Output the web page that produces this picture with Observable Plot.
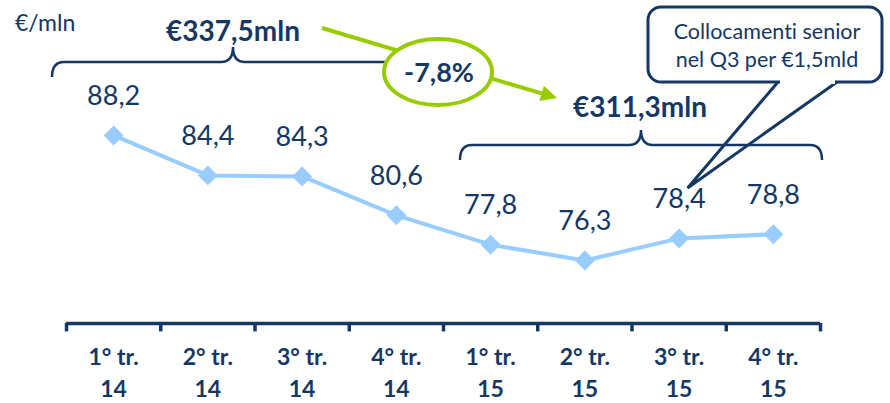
<!DOCTYPE html>
<html><head><meta charset="utf-8">
<script src="https://cdn.jsdelivr.net/npm/d3@7"></script>
<script src="https://cdn.jsdelivr.net/npm/@observablehq/plot@0.6"></script>
<style>body{margin:0;background:#fff} svg text{font-variant-ligatures:none}</style>
</head><body><div id="chart"></div>
<script>
const quarters = ["1° tr.\n14","2° tr.\n14","3° tr.\n14","4° tr.\n14","1° tr.\n15","2° tr.\n15","3° tr.\n15","4° tr.\n15"];
const values = [88.2, 84.4, 84.3, 80.6, 77.8, 76.3, 78.4, 78.8];
const unitLabel = "€/mln";
const calloutText = ["Collocamenti senior", "nel Q3 per €1,5mld"];

const navy = "#143764";
const lineBlue = "#99CCFF";
const green = "#99CC00";
const fmt = v => v.toFixed(1).replace(".", ",");
const data = quarters.map((q, i) => ({i: i + 0.5, q, v: values[i]}));
const yMin = 70.3;
const sum14 = d3.sum(values.slice(0, 4));
const sum15 = d3.sum(values.slice(4));
const pct = (sum15 / sum14 - 1) * 100;

function annotations(index, scales) {
  const g = d3.create("svg:g");
  const x = scales.x, y = scales.y;
  const brace = (x1, x2, xm, yTop, h) => {
    const r = 12;
    return `M${x1},${yTop + h} Q${x1},${yTop} ${x1 + r},${yTop} H${xm - r} Q${xm},${yTop} ${xm},${yTop - h}` +
           ` Q${xm},${yTop} ${xm + r},${yTop} H${x2 - r} Q${x2},${yTop} ${x2},${yTop + h}`;
  };
  // brace 2014
  g.append("path").attr("d", brace(52, 414, 233, 62, 15))
    .attr("fill", "none").attr("stroke", navy).attr("stroke-width", 2.5);
  g.append("text").attr("x", 233).attr("y", 41).attr("text-anchor", "middle")
    .attr("font-size", 28).attr("font-weight", "bold").attr("fill", navy)
    .text("€" + fmt(sum14) + "mln");
  // brace 2015
  g.append("path").attr("d", brace(460, 822, 641, 145, 15))
    .attr("fill", "none").attr("stroke", navy).attr("stroke-width", 2.5);
  g.append("text").attr("x", 640).attr("y", 117).attr("text-anchor", "middle")
    .attr("font-size", 28).attr("font-weight", "bold").attr("fill", navy)
    .text("€" + fmt(sum15) + "mln");
  // green arrow
  const ax1 = 322, ay1 = 28, ax2 = 557, ay2 = 98;
  const ang = Math.atan2(ay2 - ay1, ax2 - ax1);
  const hl = 16, hw = 8;
  const bx = ax2 - hl * Math.cos(ang), by = ay2 - hl * Math.sin(ang);
  g.append("line").attr("x1", ax1).attr("y1", ay1).attr("x2", bx).attr("y2", by)
    .attr("stroke", green).attr("stroke-width", 4);
  g.append("path").attr("d",
    `M${ax2},${ay2} L${bx - hw * Math.sin(ang)},${by + hw * Math.cos(ang)} L${bx + hw * Math.sin(ang)},${by - hw * Math.cos(ang)} Z`)
    .attr("fill", green);
  g.append("ellipse").attr("cx", 438).attr("cy", 72).attr("rx", 54).attr("ry", 33)
    .attr("fill", "white").attr("stroke", green).attr("stroke-width", 4);
  g.append("text").attr("x", 439).attr("y", 82).attr("text-anchor", "middle")
    .attr("font-size", 27).attr("font-weight", "bold").attr("fill", navy)
    .text(fmt(pct) + "%");
  // callout
  g.append("rect").attr("x", 648).attr("y", 7).attr("width", 234).attr("height", 75).attr("rx", 13)
    .attr("fill", "white").attr("stroke", navy).attr("stroke-width", 3);
  const tipX = x(data[6].i) + 9, tipY = y(data[6].v) - 50;
  g.append("path").attr("d", `M778,82 L${tipX},${tipY} L837,82`)
    .attr("fill", "none").attr("stroke", navy).attr("stroke-width", 3).attr("stroke-linejoin", "miter");
  g.append("line").attr("x1", 780).attr("y1", 82).attr("x2", 835).attr("y2", 82)
    .attr("stroke", "white").attr("stroke-width", 4);
  calloutText.forEach((t, k) => g.append("text").attr("x", 767).attr("y", 39 + k * 28)
    .attr("text-anchor", "middle").attr("font-size", 21.5).attr("fill", navy).text(t));
  // unit
  g.append("text").attr("x", 15).attr("y", 31).attr("text-anchor", "start")
    .attr("font-size", 23).attr("fill", navy).text(unitLabel);
  return g.node();
}

const chart = Plot.plot({
  width: 890, height: 403,
  marginLeft: 66, marginRight: 70, marginTop: 11, marginBottom: 80,
  style: {fontFamily: "Lato, sans-serif", background: "white", overflow: "visible"},
  x: {type: "linear", domain: [0, 8]},
  y: {domain: [yMin, 100], axis: null},
  marks: [
    Plot.ruleY([yMin], {stroke: navy, strokeWidth: 3.5}),
    Plot.ruleX(d3.range(9), {x: d => d, y1: yMin, y2: yMin - 0.8, stroke: navy, strokeWidth: 3.5}),
    Plot.line(data, {x: "i", y: "v", stroke: lineBlue, strokeWidth: 4}),
    Plot.dot(data, {x: "i", y: "v", symbol: "diamond2", r: 9, fill: lineBlue, stroke: "none"}),
    Plot.text(data, {x: "i", y: "v", text: d => fmt(d.v), dy: -39, fontSize: 27, fill: navy}),
    Plot.axisX({ticks: data.map(d => d.i), tickFormat: v => quarters[Math.floor(v)], tickSize: 0,
      tickPadding: 19, fontSize: 23, fontWeight: "bold", lineHeight: 1.38, fill: navy, label: null}),
    annotations
  ]
});
document.getElementById("chart").append(chart);
</script></body></html>
